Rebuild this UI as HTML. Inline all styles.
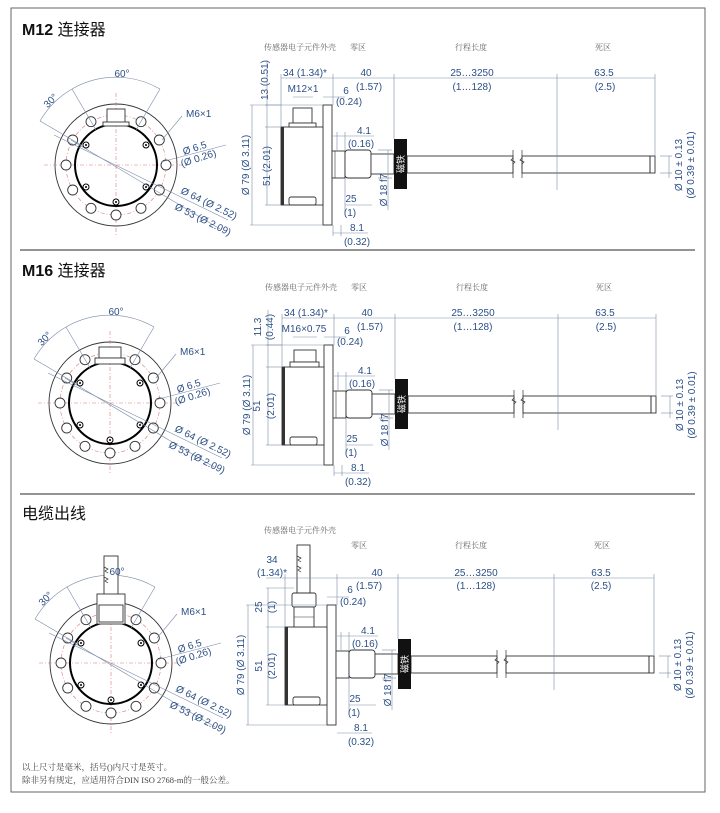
<!DOCTYPE html>
<html><head><meta charset="utf-8"><style>
html,body{margin:0;padding:0;background:#fff;}
svg{display:block;}
.t{font-family:"Liberation Sans Narrow","Liberation Sans","Noto Sans CJK SC",sans-serif;font-size:10px;fill:#2b4f86;}
.h{font-family:"Liberation Serif","Noto Serif CJK SC",serif;font-size:8px;fill:#666;}
.ti{font-family:"Liberation Sans","Noto Sans CJK SC",sans-serif;font-size:16px;fill:#111;}
.ft{font-family:"Liberation Serif","Noto Serif CJK SC",serif;font-size:8.5px;fill:#444;}
.d{stroke:#7a8aa8;stroke-width:0.6;fill:none;}
.k{stroke:#333;stroke-width:0.9;fill:#fff;}
.r{stroke:#d77;stroke-width:0.6;fill:none;stroke-dasharray:4 2 1 2;}
</style></head><body>
<svg width="720" height="813" viewBox="0 0 720 813" xmlns="http://www.w3.org/2000/svg">
<defs>
<g id="fv">
  <circle r="61" class="k" fill="#fff"/>
  <circle r="50" class="r"/>
  <line x1="-72" y1="0" x2="72" y2="0" class="r"/>
  <line x1="0" y1="-72" x2="0" y2="72" class="r"/>
  <circle r="41" fill="none" stroke="#000" stroke-width="2"/>
  <g class="k" fill="#fff">
    <circle cx="50" cy="0" r="5"/><circle cx="43.3" cy="-25" r="5"/><circle cx="25" cy="-43.3" r="5"/>
    <circle cx="-25" cy="-43.3" r="5"/><circle cx="-43.3" cy="-25" r="5"/><circle cx="-50" cy="0" r="5"/>
    <circle cx="-43.3" cy="25" r="5"/><circle cx="-25" cy="43.3" r="5"/><circle cx="0" cy="50" r="5"/>
    <circle cx="25" cy="43.3" r="5"/><circle cx="43.3" cy="25" r="5"/>
  </g>
  <g stroke="#000" stroke-width="1" fill="#fff">
    <circle cx="-30" cy="-20" r="3"/><circle cx="30" cy="-20" r="3"/>
    <circle cx="-30" cy="22" r="3"/><circle cx="30" cy="22" r="3"/><circle cx="0" cy="37" r="3"/>
  </g>
  <g fill="#000"><circle cx="-30" cy="-20" r="1"/><circle cx="30" cy="-20" r="1"/><circle cx="-30" cy="22" r="1"/><circle cx="30" cy="22" r="1"/><circle cx="0" cy="37" r="1"/></g>
  <!-- angle lines and arcs -->
  <line x1="-20" y1="-35" x2="-44" y2="-76" class="d"/>
  <line x1="20" y1="-35" x2="44" y2="-76" class="d"/>
  <line x1="-35" y1="-20" x2="-76" y2="-44" class="d"/>
  <path d="M44,-76 A88,88 0 0 0 -44,-76 A88,88 0 0 0 -76,-44" class="d"/>
  <!-- diameter leaders -->
  <line x1="-62" y1="-30" x2="112" y2="55" class="d"/>
  <line x1="-45" y1="-25" x2="104" y2="64" class="d"/>
  <line x1="45" y1="-3" x2="110" y2="-20" class="d"/>
  <line x1="46" y1="-25" x2="66" y2="-49" class="d"/>
</g>
<g id="sv">
  <rect x="323" y="105" width="9" height="120" class="k" fill="#f6f6f6"/>
  <rect x="281" y="127" width="42" height="78" class="k"/>
  <rect x="281" y="127" width="3" height="78" fill="#333"/>
  <rect x="289" y="197" width="27" height="8" rx="2" class="k"/>
  <rect x="332" y="151" width="13" height="27" class="k" fill="#f0f0f0"/>
  <line x1="335" y1="151" x2="335" y2="178" stroke="#333" stroke-width="0.6"/>
  <rect x="345" y="150" width="26" height="28" rx="3" class="k"/>
  <rect x="371" y="154" width="23" height="20" class="k"/>
  <rect x="407" y="156" width="106" height="17" class="k"/>
  <rect x="522" y="156" width="133" height="17" class="k"/>
  <line x1="650" y1="156" x2="650" y2="173" stroke="#333"/>
  <path d="M513,150 l0,8 -2,2 4,2 -2,2 0,14 M522,150 l0,8 -2,2 4,2 -2,2 0,14" stroke="#333" stroke-width="0.7" fill="none"/>
  <rect x="394" y="139" width="13" height="50" fill="#111"/>
  <text transform="translate(404,164) rotate(-90)" text-anchor="middle" font-family="Noto Sans CJK SC,sans-serif" font-size="9" fill="#fff">磁铁</text>
  <!-- dims -->
  <g class="d">
    <line x1="281" y1="78" x2="655" y2="78"/>
    <line x1="281" y1="74" x2="281" y2="127"/>
    <line x1="333" y1="74" x2="333" y2="105"/>
    <line x1="394" y1="74" x2="394" y2="139"/>
    <line x1="557" y1="74" x2="557" y2="190"/>
    <line x1="655" y1="74" x2="655" y2="156"/>
    <line x1="250" y1="105" x2="323" y2="105"/>
    <line x1="250" y1="225" x2="323" y2="225"/>
    <line x1="252" y1="105" x2="252" y2="225"/>
    <line x1="265" y1="127" x2="281" y2="127"/>
    <line x1="265" y1="205" x2="281" y2="205"/>
    <line x1="267" y1="127" x2="267" y2="205"/>
    <line x1="333" y1="136" x2="374" y2="136"/>
    <line x1="337" y1="132" x2="337" y2="151"/>
    <line x1="345" y1="132" x2="345" y2="150"/>
    <line x1="345" y1="205" x2="372" y2="205"/>
    <line x1="345" y1="178" x2="345" y2="212"/>
    <line x1="333" y1="233" x2="368" y2="233"/>
    <line x1="333" y1="225" x2="333" y2="236"/>
    <line x1="341" y1="225" x2="341" y2="236"/>
    <line x1="378" y1="150" x2="392" y2="150"/>
    <line x1="378" y1="178" x2="392" y2="178"/>
    <line x1="388" y1="150" x2="388" y2="210"/>
    <line x1="660" y1="156" x2="672" y2="156"/>
    <line x1="660" y1="173" x2="672" y2="173"/>
    <line x1="669" y1="156" x2="669" y2="178"/>
    <line x1="323" y1="97" x2="345" y2="97"/>
  </g>
  <text class="t" x="305" y="76" text-anchor="middle">34 (1.34)*</text>
  <text class="t" x="366" y="76" text-anchor="middle">40</text>
  <text class="t" x="369" y="90" text-anchor="middle">(1.57)</text>
  <text class="t" x="472" y="76" text-anchor="middle">25…3250</text>
  <text class="t" x="472" y="90" text-anchor="middle">(1…128)</text>
  <text class="t" x="604" y="76" text-anchor="middle">63.5</text>
  <text class="t" x="605" y="90" text-anchor="middle">(2.5)</text>
  <text class="t" x="346" y="94" text-anchor="middle">6</text>
  <text class="t" x="349" y="105" text-anchor="middle">(0.24)</text>
  <text class="t" x="364" y="134" text-anchor="middle">4.1</text>
  <text class="t" x="361" y="147" text-anchor="middle">(0.16)</text>
  <text class="t" x="351" y="202" text-anchor="middle">25</text>
  <text class="t" x="350" y="216" text-anchor="middle">(1)</text>
  <text class="t" x="357" y="231" text-anchor="middle">8.1</text>
  <text class="t" x="357" y="245" text-anchor="middle">(0.32)</text>
  <text class="t" transform="translate(387,190) rotate(-90)" text-anchor="middle">Ø 18 f7</text>
  <text class="t" transform="translate(249,165) rotate(-90)" text-anchor="middle">Ø 79 (Ø 3.11)</text>
  <text class="t" transform="translate(682,165) rotate(-90)" text-anchor="middle">Ø 10 ± 0.13</text>
  <text class="t" transform="translate(694,165) rotate(-90)" text-anchor="middle">(Ø 0.39 ± 0.01)</text>
  <text class="h" x="300" y="50" text-anchor="middle">传感器电子元件外壳</text>
</g>
<g id="fvt">
  <text class="t" x="6" y="-88" text-anchor="middle">60°</text>
  <text class="t" transform="translate(-63,-62) rotate(-45)" text-anchor="middle">30°</text>
  <text class="t" x="70" y="-48">M6×1</text>
  <text class="t" transform="translate(68,-10) rotate(-18)">Ø 6.5</text>
  <text class="t" transform="translate(66,2) rotate(-18)">(Ø 0.26)</text>
  <text class="t" transform="translate(64,28) rotate(26)">Ø 64 (Ø 2.52)</text>
  <text class="t" transform="translate(58,44) rotate(26)">Ø 53 (Ø 2.09)</text>
</g>
</defs>

<!-- frame -->
<rect x="11" y="8" width="694" height="784" fill="none" stroke="#666" stroke-width="1"/>
<line x1="20" y1="250" x2="695" y2="250" stroke="#555" stroke-width="1.2"/>
<line x1="20" y1="494" x2="695" y2="494" stroke="#555" stroke-width="1.2"/>

<!-- Section 1 -->
<text class="ti" x="22" y="35"><tspan font-weight="bold">M12</tspan> 连接器</text>
<g transform="translate(116,165)">
  <use href="#fv"/>
  <rect x="-9" y="-56" width="18" height="15" class="k"/>
  <rect x="-13" y="-43" width="26" height="4" class="k"/>
  <use href="#fvt"/>
</g>
<use href="#sv"/>
<rect x="293" y="108" width="19" height="15" class="k"/>
<rect x="289" y="123" width="27" height="4" class="k"/>
<text class="h" x="358" y="50" text-anchor="middle">零区</text>
<text class="h" x="471" y="50" text-anchor="middle">行程长度</text>
<text class="h" x="603" y="50" text-anchor="middle">死区</text>
<text class="t" x="303" y="92" text-anchor="middle">M12×1</text>
<line x1="293" y1="97" x2="313" y2="97" class="d"/>
<text class="t" transform="translate(268,80) rotate(-90)" text-anchor="middle">13 (0.51)</text>
<text class="t" transform="translate(270,166) rotate(-90)" text-anchor="middle">51 (2.01)</text>
<line x1="265" y1="105" x2="281" y2="105" class="d"/>
<line x1="267" y1="60" x2="267" y2="127" class="d"/>

<!-- Section 2 -->
<text class="ti" x="22" y="276"><tspan font-weight="bold">M16</tspan> 连接器</text>
<g transform="translate(110,403)">
  <use href="#fv"/>
  <rect x="-11" y="-56" width="22" height="11" class="k"/>
  <rect x="-15" y="-45" width="30" height="6" class="k"/>
  <use href="#fvt"/>
</g>
<g transform="translate(1,240)">
  <use href="#sv"/>
  <rect x="293" y="110" width="22" height="12" class="k"/>
  <rect x="289" y="122" width="29" height="5" class="k"/>
  <text class="h" x="358" y="50" text-anchor="middle">零区</text>
  <text class="h" x="471" y="50" text-anchor="middle">行程长度</text>
  <text class="h" x="603" y="50" text-anchor="middle">死区</text>
  <text class="t" x="303" y="92" text-anchor="middle">M16×0.75</text>
  <line x1="292" y1="97" x2="316" y2="97" class="d"/>
  <text class="t" transform="translate(260,87) rotate(-90)" text-anchor="middle">11.3</text>
  <text class="t" transform="translate(272,87) rotate(-90)" text-anchor="middle">(0.44)</text>
  <text class="t" transform="translate(259,166) rotate(-90)" text-anchor="middle">51</text>
  <text class="t" transform="translate(273,166) rotate(-90)" text-anchor="middle">(2.01)</text>
  <line x1="265" y1="105" x2="281" y2="105" class="d"/>
  <line x1="267" y1="70" x2="267" y2="127" class="d"/>
</g>

<!-- Section 3 -->
<text class="ti" x="22" y="519">电缆出线</text>
<g transform="translate(111,663)">
  <use href="#fv"/>
  <rect x="-7" y="-107" width="14" height="52" class="k"/>
  <path d="M-7,-96 l4,2 -3,2 3,2 M7,-96 M-7,-86 l4,2 -3,2 3,2" stroke="#333" stroke-width="0.7" fill="none"/>
  <rect x="-14" y="-69" width="28" height="30" class="k" fill="#eee"/>
  <rect x="-12" y="-58" width="24" height="17" class="k"/>
  <use href="#fvt"/>
</g>
<g transform="translate(4,500)">
  <g transform="translate(0,0)">
  <rect x="323" y="105" width="9" height="120" class="k" fill="#f6f6f6"/>
  <rect x="281" y="127" width="42" height="78" class="k"/>
  <rect x="281" y="127" width="3" height="78" fill="#333"/>
  <rect x="289" y="197" width="27" height="8" rx="2" class="k"/>
  <rect x="332" y="151" width="13" height="27" class="k" fill="#f0f0f0"/>
  <rect x="345" y="150" width="26" height="28" rx="3" class="k"/>
  <rect x="371" y="154" width="23" height="20" class="k"/>
  <rect x="407" y="156" width="86" height="17" class="k"/>
  <rect x="502" y="156" width="148" height="17" class="k"/>
  <line x1="645" y1="156" x2="645" y2="173" stroke="#333"/>
  <path d="M493,150 l0,8 -2,2 4,2 -2,2 0,14 M502,150 l0,8 -2,2 4,2 -2,2 0,14" stroke="#333" stroke-width="0.7" fill="none"/>
  <rect x="394" y="139" width="13" height="50" fill="#111"/>
  <text transform="translate(404,164) rotate(-90)" text-anchor="middle" font-family="Noto Sans CJK SC,sans-serif" font-size="9" fill="#fff">磁铁</text>
  <!-- gland -->
  <rect x="293" y="45" width="13" height="48" class="k"/>
  <path d="M293,56 l4,2 -3,2 3,2 M293,66 l4,2 -3,2 3,2" stroke="#333" stroke-width="0.7" fill="none"/>
  <rect x="288" y="93" width="24" height="14" rx="2" class="k" fill="#eee"/>
  <rect x="290" y="107" width="20" height="20" class="k"/>
  <line x1="290" y1="117" x2="310" y2="117" stroke="#333" stroke-width="0.6"/>
  <g class="d">
    <line x1="262" y1="78" x2="650" y2="78"/>
    <line x1="281" y1="74" x2="281" y2="127"/>
    <line x1="333" y1="74" x2="333" y2="105"/>
    <line x1="394" y1="74" x2="394" y2="139"/>
    <line x1="550" y1="74" x2="550" y2="190"/>
    <line x1="650" y1="74" x2="650" y2="156"/>
    <line x1="242" y1="105" x2="323" y2="105"/>
    <line x1="242" y1="225" x2="323" y2="225"/>
    <line x1="244" y1="105" x2="244" y2="225"/>
    <line x1="262" y1="127" x2="281" y2="127"/>
    <line x1="262" y1="205" x2="281" y2="205"/>
    <line x1="262" y1="88" x2="290" y2="88"/>
    <line x1="264" y1="88" x2="264" y2="205"/>
    <line x1="333" y1="136" x2="374" y2="136"/>
    <line x1="337" y1="132" x2="337" y2="151"/>
    <line x1="345" y1="132" x2="345" y2="150"/>
    <line x1="345" y1="205" x2="372" y2="205"/>
    <line x1="345" y1="178" x2="345" y2="212"/>
    <line x1="333" y1="233" x2="368" y2="233"/>
    <line x1="378" y1="150" x2="392" y2="150"/>
    <line x1="378" y1="178" x2="392" y2="178"/>
    <line x1="388" y1="150" x2="388" y2="210"/>
    <line x1="655" y1="156" x2="667" y2="156"/>
    <line x1="655" y1="173" x2="667" y2="173"/>
    <line x1="664" y1="156" x2="664" y2="178"/>
    <line x1="323" y1="97" x2="345" y2="97"/>
  </g>
  <text class="t" x="268" y="63" text-anchor="middle">34</text>
  <text class="t" x="268" y="76" text-anchor="middle">(1.34)*</text>
  <text class="t" x="373" y="76" text-anchor="middle">40</text>
  <text class="t" x="365" y="89" text-anchor="middle">(1.57)</text>
  <text class="t" x="472" y="76" text-anchor="middle">25…3250</text>
  <text class="t" x="472" y="89" text-anchor="middle">(1…128)</text>
  <text class="t" x="597" y="76" text-anchor="middle">63.5</text>
  <text class="t" x="597" y="89" text-anchor="middle">(2.5)</text>
  <text class="t" x="346" y="93" text-anchor="middle">6</text>
  <text class="t" x="349" y="105" text-anchor="middle">(0.24)</text>
  <text class="t" x="364" y="134" text-anchor="middle">4.1</text>
  <text class="t" x="361" y="147" text-anchor="middle">(0.16)</text>
  <text class="t" x="351" y="202" text-anchor="middle">25</text>
  <text class="t" x="350" y="216" text-anchor="middle">(1)</text>
  <text class="t" x="357" y="231" text-anchor="middle">8.1</text>
  <text class="t" x="357" y="245" text-anchor="middle">(0.32)</text>
  <text class="t" transform="translate(387,190) rotate(-90)" text-anchor="middle">Ø 18 f7</text>
  <text class="t" transform="translate(240,165) rotate(-90)" text-anchor="middle">Ø 79 (Ø 3.11)</text>
  <text class="t" transform="translate(258,107) rotate(-90)" text-anchor="middle">25</text>
  <text class="t" transform="translate(271,107) rotate(-90)" text-anchor="middle">(1)</text>
  <text class="t" transform="translate(258,166) rotate(-90)" text-anchor="middle">51</text>
  <text class="t" transform="translate(271,166) rotate(-90)" text-anchor="middle">(2.01)</text>
  <text class="t" transform="translate(677,165) rotate(-90)" text-anchor="middle">Ø 10 ± 0.13</text>
  <text class="t" transform="translate(689,165) rotate(-90)" text-anchor="middle">(Ø 0.39 ± 0.01)</text>
  <text class="h" x="296" y="33" text-anchor="middle">传感器电子元件外壳</text>
  <text class="h" x="355" y="48" text-anchor="middle">零区</text>
  <text class="h" x="467" y="48" text-anchor="middle">行程长度</text>
  <text class="h" x="598" y="48" text-anchor="middle">死区</text>
  </g>
</g>

<text class="ft" x="22" y="770">以上尺寸是毫米，括号()内尺寸是英寸。</text>
<text class="ft" x="22" y="783">除非另有规定，应适用符合DIN ISO 2768-m的一般公差。</text>
</svg>
</body></html>
